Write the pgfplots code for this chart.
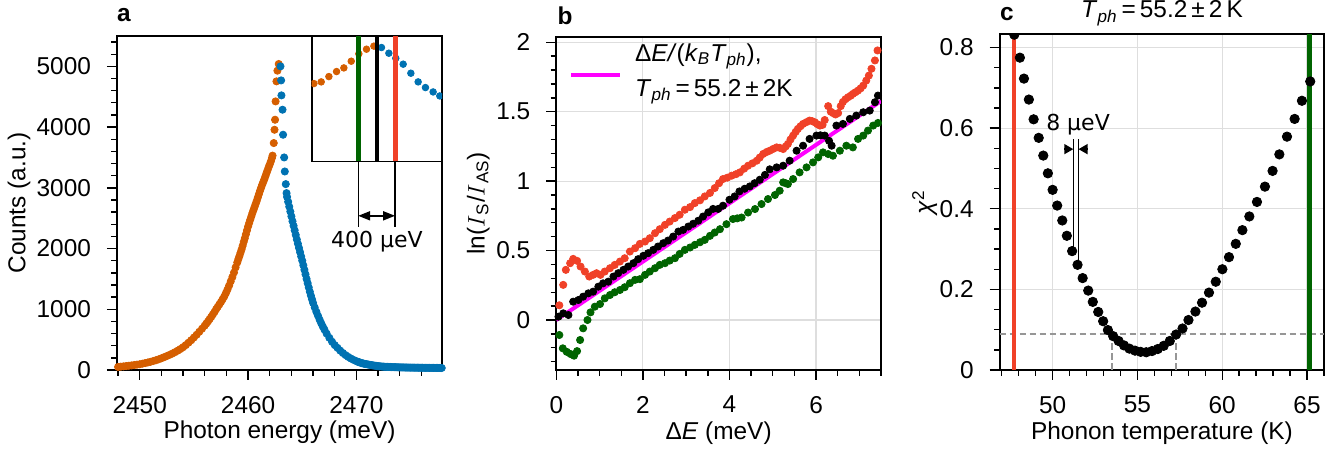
\documentclass[border=0pt]{standalone}
\usepackage{fontspec}
\setmainfont{Liberation Sans}
\newfontfamily\dejavu{DejaVu Sans}
\usepackage{pgfplots}
\usepackage{pgfplotstable}
\pgfplotsset{compat=1.18}
\usetikzlibrary{arrows.meta}

\definecolor{orng}{RGB}{213,94,0}
\definecolor{blu}{RGB}{0,114,178}
\definecolor{redc}{RGB}{240,65,40}
\definecolor{grn}{RGB}{0,100,0}
\definecolor{mag}{RGB}{255,0,255}
\definecolor{dashc}{RGB}{150,150,150}
\definecolor{gridc}{RGB}{222,222,222}
\newcommand{\fs}{\fontsize{12.2}{14}\selectfont}

% panel a: photoluminescence peak, low-energy side / high-energy side
\pgfplotstableread{
x y
2448.00 50
2448.25 55
2448.50 60
2448.75 65
2449.00 70
2449.25 76
2449.50 82
2449.75 88
2450.00 95
2450.25 104
2450.50 114
2450.75 124
2451.00 135
2451.25 148
2451.50 161
2451.75 176
2452.00 193
2452.25 211
2452.50 230
2452.75 249
2453.00 270
2453.25 293
2453.50 318
2453.75 345
2454.00 375
2454.25 410
2454.50 450
2454.75 490
2455.00 535
2455.25 580
2455.50 630
2455.75 680
2456.00 731
2456.15 765
2456.30 800
2456.45 838
2456.60 875
2456.75 915
2456.90 955
2457.05 1000
2457.20 1040
2457.35 1080
2457.50 1120
2457.65 1165
2457.80 1210
2457.95 1265
2458.10 1325
2458.25 1390
2458.40 1460
2458.55 1530
2458.70 1605
2458.85 1690
2459.00 1770
2459.10 1825
2459.20 1875
2459.30 1930
2459.40 1985
2459.50 2045
2459.60 2110
2459.70 2170
2459.80 2235
2459.90 2300
2460.00 2363
2460.10 2420
2460.20 2475
2460.30 2530
2460.40 2585
2460.50 2635
2460.60 2685
2460.70 2735
2460.80 2785
2460.90 2840
2461.00 2895
2461.10 2950
2461.20 3000
2461.30 3050
2461.40 3095
2461.50 3140
2461.60 3190
2461.70 3242
2461.80 3290
2461.90 3340
2462.00 3385
2462.10 3434
2462.20 3490
2462.26 3530
2462.37 3737
2462.44 3956
2462.49 4121
2462.54 4423
2462.62 4753
2462.71 4929
2462.83 5039
}\antistokes
\pgfplotstableread{
x y
2462.99 5000
2463.05 4769
2463.08 4522
2463.18 4286
2463.23 3874
2463.33 3500
2463.39 3269
2463.48 3061
2463.55 2913
2463.60 2850
2463.70 2770
2463.80 2690
2463.90 2610
2464.00 2530
2464.10 2450
2464.20 2375
2464.30 2300
2464.40 2225
2464.50 2150
2464.60 2080
2464.70 2010
2464.80 1940
2464.90 1870
2465.00 1800
2465.10 1725
2465.20 1650
2465.30 1575
2465.40 1500
2465.50 1430
2465.60 1360
2465.70 1290
2465.80 1225
2465.90 1165
2466.00 1105
2466.15 1030
2466.30 960
2466.45 895
2466.60 830
2466.75 770
2466.90 715
2467.05 665
2467.25 600
2467.50 530
2467.75 465
2468.00 410
2468.25 365
2468.50 320
2468.75 280
2469.00 245
2469.25 215
2469.50 188
2469.75 165
2470.000 145
2470.125 136
2470.250 128
2470.375 120
2470.500 113
2470.625 107
2470.750 102
2470.875 97
2471.000 93
2471.125 89
2471.250 85
2471.375 81
2471.500 77
2471.625 73
2471.750 70
2471.875 67
2472.000 64
2472.125 61
2472.250 59
2472.375 57
2472.500 55
2472.625 53
2472.750 52
2472.875 51
2473.000 50
2473.125 49
2473.250 48
2473.375 47
2473.500 46
2473.625 46
2473.750 45
2473.875 44
2474.000 43
2474.125 43
2474.250 42
2474.375 42
2474.500 41
2474.625 41
2474.750 40
2474.875 40
2475.000 39
2475.125 39
2475.250 39
2475.375 38
2475.500 38
2475.625 38
2475.750 37
2475.875 37
2476.000 37
2476.125 37
2476.250 36
2476.375 36
2476.500 36
2476.625 36
2476.750 35
2476.875 35
2477.000 35
2477.125 35
2477.250 34
2477.375 34
2477.500 34
2477.625 34
2477.750 33
2477.875 33
}\stokes
% inset (zoom on the peak)
\pgfplotstableread{
x y
2462.219 4637
2462.298 4655
2462.381 4712
2462.464 4766
2462.543 4805
2462.623 4877
2462.705 4956
2462.788 5006
2462.868 5039
}\insetL
\pgfplotstableread{
x y
2462.950 5024
2463.030 4963
2463.105 4909
2463.185 4845
2463.268 4748
2463.347 4655
2463.426 4594
2463.509 4547
2463.581 4504
}\insetR

% panel b: ln(I_S/I_AS)
\pgfplotstableread{
x y
0.07 0.106
0.16 0.253
0.22 0.361
0.32 0.409
0.39 0.440
0.48 0.426
0.56 0.385
0.66 0.349
0.76 0.313
0.85 0.325
0.93 0.337
1.02 0.325
1.12 0.349
1.24 0.373
1.35 0.397
1.47 0.421
1.58 0.445
1.70 0.493
1.82 0.517
1.93 0.548
2.05 0.565
2.16 0.589
2.28 0.625
2.39 0.654
2.51 0.685
2.62 0.709
2.74 0.734
2.85 0.758
2.97 0.794
3.09 0.813
3.20 0.842
3.32 0.862
3.43 0.890
3.55 0.915
3.66 0.950
3.76 0.985
3.85 1.015
3.95 1.025
4.05 1.039
4.15 1.050
4.24 1.063
4.34 1.090
4.43 1.111
4.53 1.128
4.63 1.147
4.70 1.170
4.78 1.196
4.86 1.210
4.93 1.219
5.01 1.232
5.09 1.243
5.16 1.240
5.24 1.231
5.30 1.250
5.35 1.268
5.41 1.300
5.47 1.328
5.53 1.355
5.58 1.376
5.64 1.395
5.70 1.412
5.78 1.425
5.85 1.436
5.91 1.432
5.97 1.424
6.03 1.410
6.09 1.400
6.15 1.405
6.20 1.440
6.28 1.540
6.34 1.500
6.39 1.490
6.45 1.480
6.51 1.490
6.57 1.540
6.62 1.570
6.68 1.590
6.74 1.604
6.80 1.615
6.85 1.628
6.91 1.640
6.97 1.652
7.03 1.668
7.09 1.688
7.16 1.724
7.22 1.760
7.28 1.809
7.36 1.869
7.42 1.941
}\redb
\pgfplotstableread{
x y
0.07 -0.108
0.15 -0.204
0.24 -0.229
0.33 -0.245
0.41 -0.257
0.48 -0.224
0.55 -0.144
0.62 -0.060
0.72 0.000
0.79 0.055
0.89 0.096
1.01 0.115
1.12 0.156
1.24 0.180
1.35 0.200
1.47 0.216
1.58 0.236
1.70 0.265
1.82 0.289
1.93 0.294
2.05 0.325
2.16 0.349
2.28 0.373
2.39 0.397
2.51 0.409
2.62 0.428
2.74 0.445
2.85 0.476
2.97 0.505
3.09 0.522
3.20 0.541
3.32 0.560
3.43 0.577
3.55 0.606
3.66 0.630
3.78 0.654
3.93 0.690
4.08 0.727
4.18 0.732
4.28 0.738
4.43 0.774
4.59 0.799
4.74 0.835
4.89 0.871
5.05 0.900
5.16 0.931
5.24 0.991
5.30 0.985
5.35 0.979
5.47 1.015
5.62 1.063
5.78 1.099
5.93 1.135
6.05 1.171
6.16 1.207
6.28 1.195
6.39 1.183
6.55 1.219
6.70 1.255
6.85 1.243
6.97 1.304
7.09 1.328
7.20 1.364
7.32 1.400
7.43 1.419
}\grnb
\pgfplotstableread{
x y
0.05 0.024
0.16 0.048
0.28 0.036
0.39 0.132
0.51 0.144
0.62 0.168
0.74 0.192
0.85 0.204
0.97 0.240
1.08 0.264
1.20 0.276
1.32 0.313
1.43 0.337
1.55 0.361
1.66 0.385
1.78 0.409
1.89 0.438
2.01 0.462
2.12 0.481
2.24 0.505
2.35 0.529
2.47 0.553
2.58 0.572
2.70 0.601
2.82 0.637
2.93 0.649
3.05 0.673
3.16 0.693
3.28 0.715
3.39 0.745
3.51 0.775
3.62 0.800
3.74 0.800
3.85 0.823
4.00 0.866
4.12 0.890
4.23 0.926
4.35 0.945
4.47 0.962
4.58 0.985
4.70 1.010
4.82 1.045
4.93 1.085
5.09 1.099
5.24 1.111
5.39 1.147
5.55 1.219
5.70 1.255
5.85 1.304
6.01 1.328
6.10 1.330
6.20 1.328
6.30 1.290
6.36 1.255
6.47 1.400
6.62 1.412
6.78 1.448
6.93 1.472
7.09 1.496
7.24 1.508
7.36 1.568
7.43 1.616
}\blkb

% panel c: chi^2 vs phonon temperature
\pgfplotstableread{
x y
47.74 0.832
48.07 0.775
48.31 0.723
48.60 0.671
48.88 0.622
49.18 0.576
49.45 0.532
49.72 0.488
50.00 0.447
50.27 0.408
50.57 0.371
50.84 0.333
51.15 0.295
51.47 0.261
51.77 0.228
52.10 0.197
52.37 0.169
52.69 0.144
52.98 0.121
53.26 0.099
53.57 0.084
53.89 0.072
54.21 0.061
54.53 0.053
54.86 0.048
55.19 0.045
55.52 0.044
55.86 0.047
56.20 0.052
56.55 0.060
56.91 0.072
57.28 0.088
57.66 0.103
58.01 0.124
58.42 0.145
58.81 0.167
59.22 0.192
59.62 0.219
60.01 0.250
60.40 0.280
60.80 0.313
61.19 0.347
61.60 0.381
62.05 0.417
62.52 0.455
62.97 0.494
63.37 0.535
63.82 0.579
64.27 0.623
64.70 0.668
65.19 0.716
}\chisq

\pgfplotsset{
  panel/.style={
    scale only axis, anchor=south west,
    tick align=outside, tick pos=left,
    axis line style={line width=0.9pt},
    every tick/.style={black, line width=0.7pt},
    major tick length=5pt, minor tick length=2.8pt,
    xticklabel shift=4.5pt, yticklabel shift=4.5pt,
    tick label style={font=\fs},
    label style={font=\fs},
    /pgf/number format/assume math mode=true,
    /pgf/number format/1000 sep={},
  },
  dots/.style={only marks, mark=*, mark size=#1, mark options={draw=none}},
}

\begin{document}
\begin{tikzpicture}
\path[use as bounding box] (0,0) rectangle (670pt,227.5pt);

% ---------------- a ----------------
\begin{axis}[panel, at={(58.5pt,42.5pt)}, width=162.5pt, height=167pt,
  xmin=2447.9, xmax=2477.9, ymin=0, ymax=5500,
  xtick={2450,2460,2470}, minor xtick={2448,2450,...,2478},
  ytick={0,1000,...,5000}, minor ytick={0,200,...,5400},
  xlabel={Photon energy (meV)}, ylabel={Counts (a.u.)},
  xlabel style={at={(axis description cs:0.5,-0.185)}, anchor=center},
  ylabel style={at={(axis description cs:-0.3015,0.5)}, anchor=center},
  extra description/.code={\node[font=\bfseries\fs] at (0.0215,1.063) {a};}]
\addplot[dots=1.8pt, orng] table {\antistokes};
\addplot[dots=1.8pt, blu] table {\stokes};
\draw[line width=0.6pt] (axis cs:2470.16,3437) -- (axis cs:2470.16,2362);
\draw[line width=0.6pt] (axis cs:2473.57,3437) -- (axis cs:2473.57,2362);
\draw[line width=0.9pt, {Triangle[length=6pt,width=4.5pt]}-{Triangle[length=6pt,width=4.5pt]}]
  (axis cs:2470.16,2539) -- (axis cs:2473.57,2539);
\node[font=\dejavu\fontsize{11}{13}\selectfont] at (axis cs:2471.9,2115) {400 μeV};
\end{axis}

% inset
\begin{axis}[scale only axis, anchor=south west, at={(155.85pt,146.75pt)},
  width=65.15pt, height=62.85pt,
  xmin=2462.195, xmax=2463.605, ymin=3800, ymax=5150,
  xtick=\empty, ytick=\empty, axis line style={line width=0.9pt},
  clip marker paths=true,
  axis background/.style={fill=white}]
\addplot[dots=1.65pt, orng] table {\insetL};
\addplot[dots=1.65pt, blu] table {\insetR};
\addplot[grn, line width=2.3pt] coordinates {(2462.70,3800) (2462.70,5150)};
\addplot[black, line width=2.3pt] coordinates {(2462.90,3800) (2462.90,5150)};
\addplot[redc, line width=2.3pt] coordinates {(2463.10,3800) (2463.10,5150)};
\end{axis}

% ---------------- b ----------------
\begin{axis}[panel, at={(278.15pt,42.5pt)}, width=162.35pt, height=166.65pt,
  xmin=0, xmax=7.5, ymin=-0.36, ymax=2.04,
  xtick={0,2,4,6}, minor xtick={0,0.5,...,7.5},
  ytick={0,0.5,1,1.5,2}, minor ytick={-0.3,-0.2,...,2.0},
  grid=major, major grid style={gridc, line width=0.6pt},
  xlabel={Δ\textit{E} (meV)}, ylabel={ln($I$\textsubscript{S}/$I$\textsubscript{AS})},
  xlabel style={at={(axis description cs:0.5,-0.19)}, anchor=center},
  ylabel style={at={(axis description cs:-0.24,0.5)}, anchor=center},
  legend style={draw=none, fill=none, at={(axis description cs:0.02,1.011)},
    anchor=north west, font=\fs},
  legend cell align=left,
  legend image code/.code={\draw[#1, line width=2pt] (0pt,-6.5pt) -- (24.5pt,-6.5pt);},
  extra description/.code={\node[font=\bfseries\fs] at (0.027,1.063) {b};}]
\addplot[dots=1.8pt, redc, forget plot] table {\redb};
\addplot[dots=1.8pt, grn, forget plot] table {\grnb};
\addplot[dots=1.8pt, black, forget plot] table {\blkb};
\addplot[mag, line width=2pt] coordinates {(0,0) (7.5,1.5766)};
\addlegendentry{\hspace*{4.5pt}\begin{tabular}{@{}l@{}}Δ\textit{E/}(\textit{k}\textsubscript{\textit{B}}\textit{T}\textsubscript{\textit{ph}}),\\[3.5pt]
  \textit{T}\textsubscript{\textit{ph}}\,=\,55.2\,±\,2K\end{tabular}}
\end{axis}

% ---------------- c ----------------
\begin{axis}[panel, at={(499.85pt,42.5pt)}, width=162.3pt, height=167.85pt,
  xmin=46.88, xmax=66.02, ymin=0, ymax=0.833,
  xtick={50,55,60,65}, minor xtick={47,...,66},
  ytick={0,0.2,0.4,0.6,0.8}, minor ytick={0,0.05,...,0.8},
  grid=major, major grid style={gridc, line width=0.6pt},
  clip marker paths=true,
  xlabel={Phonon temperature (K)}, ylabel={\textit{χ}\textsuperscript{2}},
  xlabel style={at={(axis description cs:0.5,-0.189)}, anchor=center},
  ylabel style={at={(axis description cs:-0.23,0.5)}, anchor=center},
  extra description/.code={
    \node[font=\bfseries\fs] at (0.0225,1.06) {c};
    \node[font=\fs] at (0.5,1.0626) {\textit{T}\textsubscript{\textit{ph}}\,=\,55.2\,±\,2\,K};}]
\addplot[dashc, line width=1pt, dash pattern=on 3.3pt off 1.7pt] coordinates {(46.88,0.0886) (66.02,0.0886)};
\addplot[dashc, line width=1pt, dash pattern=on 3.3pt off 1.7pt] coordinates {(53.5,0) (53.5,0.0886)};
\addplot[dashc, line width=1pt, dash pattern=on 3.3pt off 1.7pt] coordinates {(57.3,0) (57.3,0.0886)};
\addplot[redc, line width=2.2pt] coordinates {(47.74,0) (47.74,0.833)};
\addplot[grn, line width=2.2pt] coordinates {(65.14,0) (65.14,0.833)};
\addplot[dots=2.35pt, black] table {\chisq};
\draw[line width=0.7pt] (axis cs:51.22,0.296) -- (axis cs:51.22,0.572);
\draw[line width=0.7pt] (axis cs:51.53,0.262) -- (axis cs:51.53,0.572);
\draw[line width=0.7pt, -{Triangle[length=4.5pt,width=5pt]}] (axis cs:50.70,0.548) -- (axis cs:51.22,0.548);
\draw[line width=0.7pt, -{Triangle[length=4.5pt,width=5pt]}] (axis cs:52.05,0.548) -- (axis cs:51.53,0.548);
\node[font=\dejavu\fontsize{11}{13}\selectfont] at (axis cs:51.5,0.608) {8 μeV};
\end{axis}
\end{tikzpicture}
\end{document}
